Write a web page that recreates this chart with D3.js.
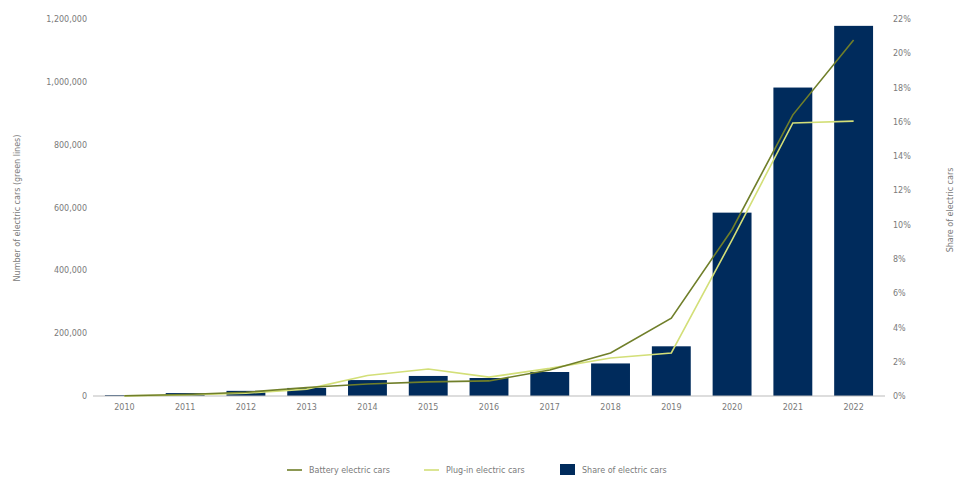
<!DOCTYPE html>
<html><head><meta charset="utf-8">
<script src="https://cdn.jsdelivr.net/npm/d3@7"></script>
<style>body{margin:0;background:#fff}svg{display:block}text{font-family:"DejaVu Sans",Verdana,sans-serif;fill:#7a7a7a}</style>
</head><body><svg id="c" width="956" height="477"></svg>
<script>
const years = ["2010","2011","2012","2013","2014","2015","2016","2017","2018","2019","2020","2021","2022"];
const batteryCars = [1000, 5000, 12000, 27000, 38000, 45000, 48000, 83000, 137000, 248000, 530000, 895000, 1133000];
const pluginCars = [500, 3000, 9000, 22000, 65000, 86000, 60000, 88000, 121000, 137000, 497000, 869000, 875000];
const shareElectric = [0.05, 0.17, 0.3, 0.47, 0.93, 1.17, 1.05, 1.4, 1.9, 2.9, 10.7, 18.0, 21.6];
const leftTicks = [0, 200000, 400000, 600000, 800000, 1000000, 1200000];
const rightTicks = [0,2,4,6,8,10,12,14,16,18,20,22];

const svg = d3.select("#c");
const x0 = 94, x1 = 884, yTop = 19, yBase = 396;
const x = d3.scaleBand().domain(years).range([x0, x1]).paddingInner(0.36).paddingOuter(0.18);
const yL = d3.scaleLinear().domain([0, 1200000]).range([yBase, yTop]);
const yR = d3.scaleLinear().domain([0, 22]).range([yBase, yTop]);

const cBar = "#002b5c", cBat = "#707f2a", cPlug = "#d3df78";

// bars
svg.append("g").selectAll("rect").data(years).join("rect")
  .attr("x", d => x(d)).attr("width", x.bandwidth())
  .attr("y", (d,i) => yR(shareElectric[i])).attr("height", (d,i) => yBase - yR(shareElectric[i]))
  .attr("fill", cBar);

// baseline axis
const gx = svg.append("g").attr("transform", `translate(0,${yBase})`)
  .call(d3.axisBottom(x).tickSize(0).tickPadding(8));
gx.select(".domain").attr("stroke", "#bbb").attr("d", `M${x0-1},0H${x1+1}`);
gx.selectAll("text").attr("font-size", 8).style("fill", "#7a7a7a");

// left axis
const gl = svg.append("g").attr("transform", `translate(${x0-1},0)`)
  .call(d3.axisLeft(yL).tickValues(leftTicks).tickFormat(d3.format(",")).tickSize(0).tickPadding(6));
gl.select(".domain").remove();
gl.selectAll("text").attr("font-size", 8).style("fill", "#7a7a7a");

// right axis
const gr = svg.append("g").attr("transform", `translate(${x1+1},0)`)
  .call(d3.axisRight(yR).tickValues(rightTicks).tickFormat(d => d + "%").tickSize(0).tickPadding(8));
gr.select(".domain").remove();
gr.selectAll("text").attr("font-size", 8).style("fill", "#7a7a7a");

// lines
const cx = d => x(d) + x.bandwidth()/2;
const line = arr => d3.line().x((d,i) => cx(years[i])).y((d,i) => yL(arr[i]))(arr);
svg.append("path").attr("d", line(pluginCars)).attr("fill","none").attr("stroke", cPlug).attr("stroke-width", 1.6);
svg.append("path").attr("d", line(batteryCars)).attr("fill","none").attr("stroke", cBat).attr("stroke-width", 1.6);

// axis titles
svg.append("text").attr("transform", "translate(20,208) rotate(-90)").attr("text-anchor","middle")
  .attr("font-size", 8).text("Number of electric cars (green lines)");
svg.append("text").attr("transform", "translate(953,210) rotate(-90)").attr("text-anchor","middle")
  .attr("font-size", 8).text("Share of electric cars");

// legend
const lg = svg.append("g").attr("transform", "translate(0,470)");
const items = [
  {label:"Battery electric cars", type:"line", color:cBat, x:287},
  {label:"Plug-in electric cars", type:"line", color:cPlug, x:424},
  {label:"Share of electric cars", type:"rect", color:cBar, x:560}
];
items.forEach(it => {
  if (it.type === "line") lg.append("line").attr("x1", it.x).attr("x2", it.x+15).attr("y1",0).attr("y2",0).attr("stroke", it.color).attr("stroke-width", 1.6);
  else lg.append("rect").attr("x", it.x).attr("y", -6).attr("width", 15).attr("height", 11).attr("fill", it.color);
  lg.append("text").attr("x", it.x + 22).attr("y", 3).attr("font-size", 8).text(it.label);
});
</script></body></html>
